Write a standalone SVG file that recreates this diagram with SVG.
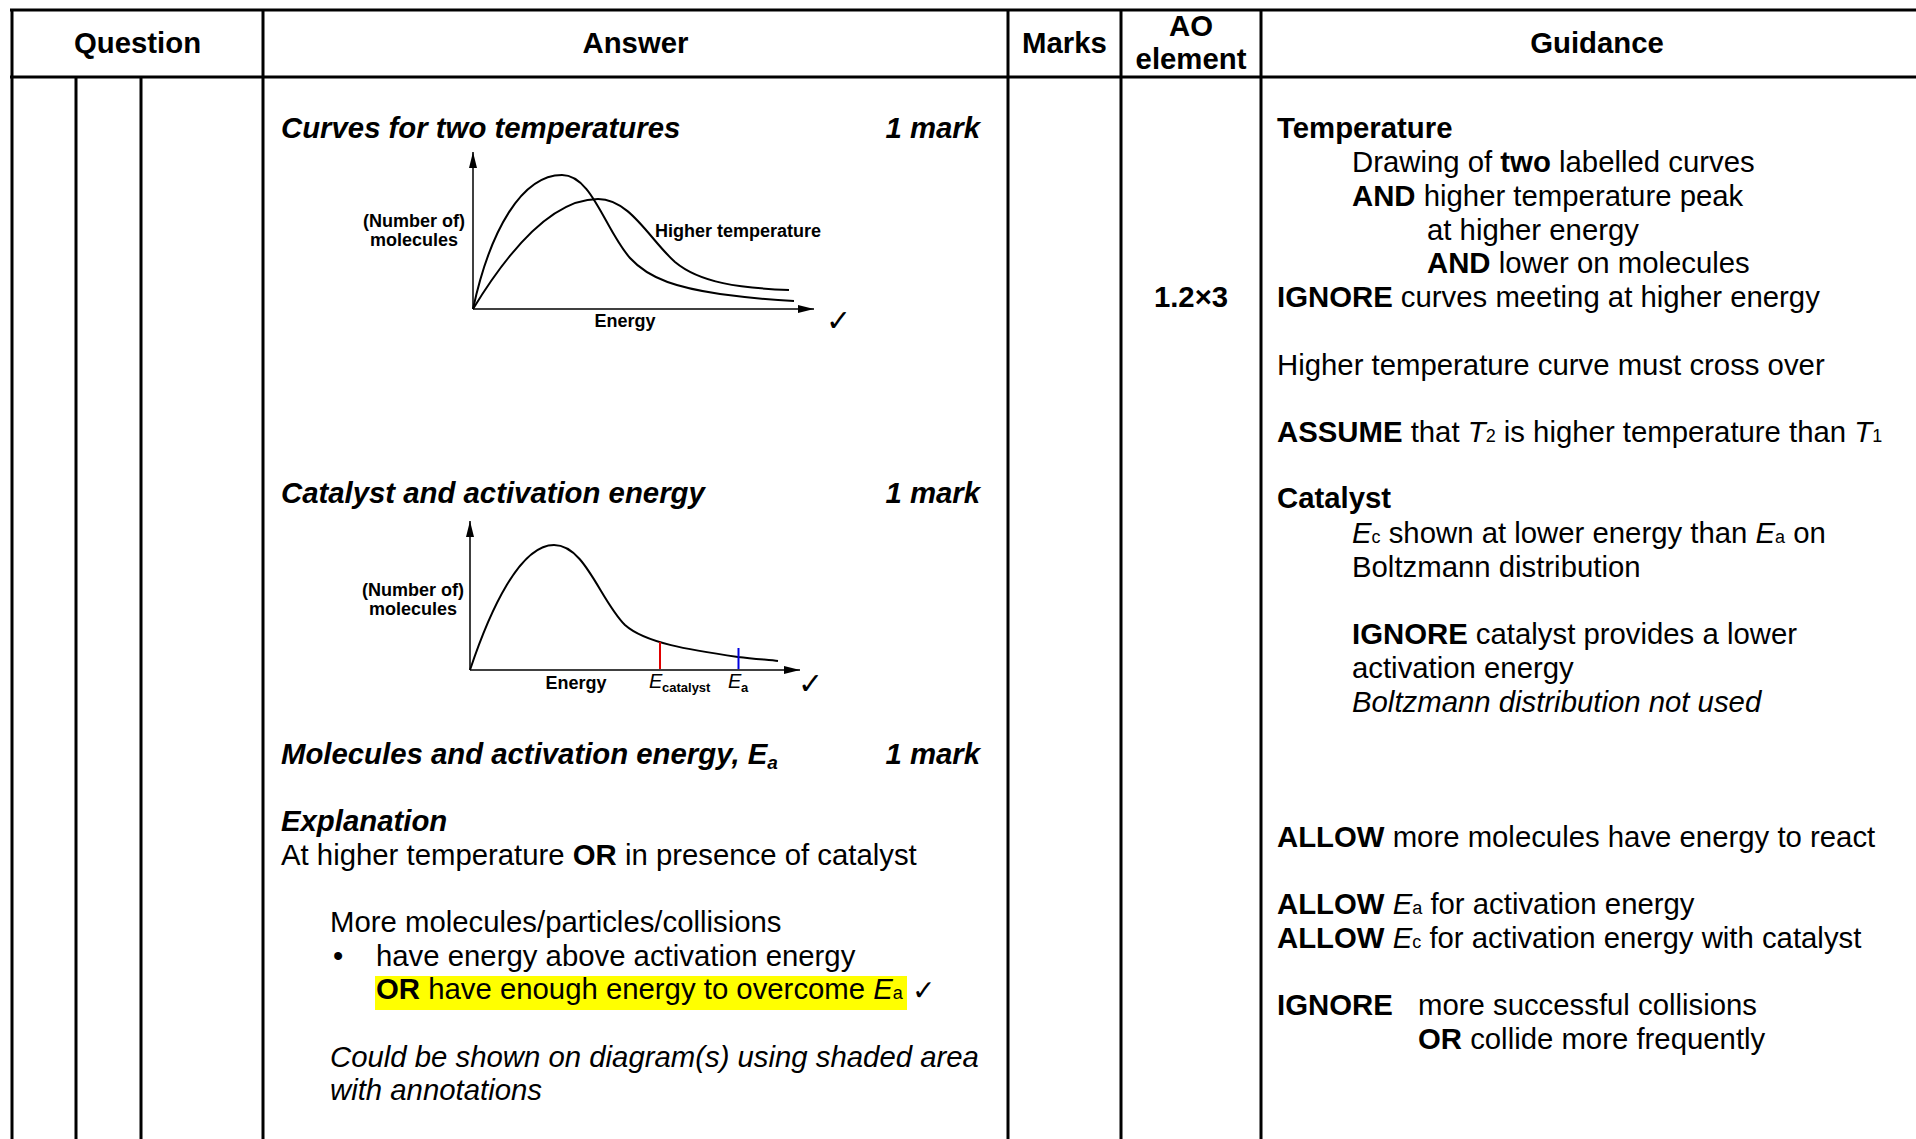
<svg xmlns="http://www.w3.org/2000/svg" width="1916" height="1139" viewBox="0 0 1916 1139">
<style>
text { font-family: "Liberation Sans", Arial, sans-serif; font-size: 29.33px; fill: #000; }
.b { font-weight: bold; }
.i { font-style: italic; }
.bi { font-weight: bold; font-style: italic; }
.sm { font-size: 18px; font-style: normal; font-weight: normal; }
.gl { font-size: 18px; font-weight: bold; }
.ge { font-size: 20px; font-style: italic; }
.gs { font-size: 13px; font-weight: bold; }
.chk { font-family: "DejaVu Sans", sans-serif; font-size: 30px; }
.chk2 { font-family: "DejaVu Sans", sans-serif; font-size: 28px; }
.ln { stroke: #000; stroke-width: 3; fill: none; }
.ax { stroke: #000; stroke-width: 1.5; fill: none; }
.cv { stroke: #000; stroke-width: 2; fill: none; }
.c { text-anchor: middle; }
.e { text-anchor: end; }
</style>
<defs>
<marker id="arr" viewBox="0 0 16 8" refX="16" refY="4" markerWidth="16" markerHeight="8" markerUnits="userSpaceOnUse" orient="auto">
<path d="M0,0 L16,4 L0,8 Z" fill="#000"/>
</marker>
</defs>
<rect width="1916" height="1139" fill="#fff"/>

<g id="connectors">
<line class="ln" x1="10" y1="10" x2="1916" y2="10"/>
<line class="ln" x1="10" y1="77" x2="1916" y2="77"/>
<line class="ln" x1="12" y1="10" x2="12" y2="1139"/>
<line class="ln" x1="76" y1="77" x2="76" y2="1139"/>
<line class="ln" x1="141" y1="77" x2="141" y2="1139"/>
<line class="ln" x1="263" y1="10" x2="263" y2="1139"/>
<line class="ln" x1="1008" y1="10" x2="1008" y2="1139"/>
<line class="ln" x1="1121" y1="10" x2="1121" y2="1139"/>
<line class="ln" x1="1261" y1="10" x2="1261" y2="1139"/>
</g>

<g id="header">
<text class="b c" x="137.5" y="53">Question</text>
<text class="b c" x="635.5" y="53">Answer</text>
<text class="b c" x="1064.5" y="53">Marks</text>
<text class="b c" x="1191" y="36">AO</text>
<text class="b c" x="1191" y="69">element</text>
<text class="b c" x="1597" y="53">Guidance</text>
</g>

<g id="answer-curves">
<text class="bi" x="281" y="138">Curves for two temperatures</text>
<text class="bi e" x="980" y="138">1 mark</text>
<line class="ax" x1="473" y1="309" x2="473" y2="152" marker-end="url(#arr)"/>
<line class="ax" x1="473" y1="309" x2="814" y2="309" marker-end="url(#arr)"/>
<path class="cv" d="M473,309 C490,230 522,175 562,175 C592,175 605,230 630,258 C650,280 680,288 720,294 C750,298 775,300 794,301"/>
<path class="cv" d="M473,309 C515,240 558,199 598,199 C630,199 650,240 675,262 C700,283 740,288 789,290"/>
<text class="gl c" x="414" y="227">(Number of)</text>
<text class="gl c" x="414" y="246">molecules</text>
<text class="gl" x="655" y="237">Higher temperature</text>
<text class="gl c" x="625" y="327">Energy</text>
<text class="chk" x="826" y="331">✓</text>
</g>

<g id="answer-catalyst">
<text class="bi" x="281" y="503">Catalyst and activation energy</text>
<text class="bi e" x="980" y="503">1 mark</text>
<line class="ax" x1="470" y1="670" x2="470" y2="521" marker-end="url(#arr)"/>
<line class="ax" x1="470" y1="670" x2="800" y2="670" marker-end="url(#arr)"/>
<path class="cv" d="M470,670 C490,610 520,545 554,545 C585,545 600,600 625,625 C645,643 690,650 738,657 C755,659 770,660 778,661"/>
<line x1="660" y1="642" x2="660" y2="669" stroke="#e00000" stroke-width="2"/>
<line x1="738.5" y1="648" x2="738.5" y2="669" stroke="#0000e0" stroke-width="2"/>
<text class="gl c" x="413" y="596">(Number of)</text>
<text class="gl c" x="413" y="615">molecules</text>
<text class="gl c" x="576" y="689">Energy</text>
<text class="ge" x="649" y="688">E</text>
<text class="gs" x="662" y="692">catalyst</text>
<text class="ge" x="728" y="688">E</text>
<text class="gs" x="741" y="692">a</text>
<text class="chk" x="798" y="694">✓</text>
</g>

<g id="answer-explanation">
<text class="bi" x="281" y="764">Molecules and activation energy, E<tspan font-size="19" dy="5">a</tspan></text>
<text class="bi e" x="980" y="764">1 mark</text>
<text class="bi" x="281" y="831">Explanation</text>
<text x="281" y="865">At higher temperature <tspan class="b">OR</tspan> in presence of catalyst</text>
<text x="330" y="932">More molecules/particles/collisions</text>
<text x="333" y="966">•</text>
<text x="376" y="966">have energy above activation energy</text>
<rect x="375" y="976" width="532" height="34" fill="#ffff00"/>
<text x="376" y="999"><tspan class="b">OR</tspan> have enough energy to overcome <tspan class="i">E</tspan><tspan class="sm">a</tspan></text>
<text class="chk2" x="912" y="1000">✓</text>
<text class="i" x="330" y="1067">Could be shown on diagram(s) using shaded area</text>
<text class="i" x="330" y="1100">with annotations</text>
</g>

<g id="ao-element">
<text class="b c" x="1191" y="307">1.2×3</text>
</g>

<g id="guidance">
<text class="b" x="1277" y="138">Temperature</text>
<text x="1352" y="172">Drawing of <tspan class="b">two</tspan> labelled curves</text>
<text x="1352" y="206"><tspan class="b">AND</tspan> higher temperature peak</text>
<text x="1427" y="240">at higher energy</text>
<text x="1427" y="273"><tspan class="b">AND</tspan> lower on molecules</text>
<text x="1277" y="307"><tspan class="b">IGNORE</tspan> curves meeting at higher energy</text>
<text x="1277" y="375">Higher temperature curve must cross over</text>
<text x="1277" y="442"><tspan class="b">ASSUME</tspan> that <tspan class="i">T</tspan><tspan class="sm">2</tspan> is higher temperature than <tspan class="i">T</tspan><tspan class="sm">1</tspan></text>
<text class="b" x="1277" y="508">Catalyst</text>
<text x="1352" y="543"><tspan class="i">E</tspan><tspan class="sm">c</tspan> shown at lower energy than <tspan class="i">E</tspan><tspan class="sm">a</tspan> on</text>
<text x="1352" y="577">Boltzmann distribution</text>
<text x="1352" y="644"><tspan class="b">IGNORE</tspan> catalyst provides a lower</text>
<text x="1352" y="678">activation energy</text>
<text class="i" x="1352" y="712">Boltzmann distribution not used</text>
<text x="1277" y="847"><tspan class="b">ALLOW</tspan> more molecules have energy to react</text>
<text x="1277" y="914"><tspan class="b">ALLOW</tspan> <tspan class="i">E</tspan><tspan class="sm">a</tspan> for activation energy</text>
<text x="1277" y="948"><tspan class="b">ALLOW</tspan> <tspan class="i">E</tspan><tspan class="sm">c</tspan> for activation energy with catalyst</text>
<text class="b" x="1277" y="1015">IGNORE</text>
<text x="1418" y="1015">more successful collisions</text>
<text x="1418" y="1049"><tspan class="b">OR</tspan> collide more frequently</text>
</g>
</svg>
